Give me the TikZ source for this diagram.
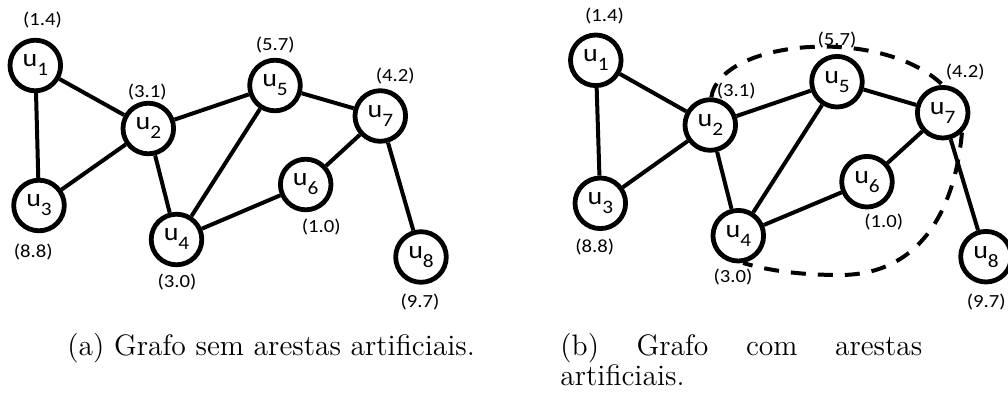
\documentclass[tikz,border=0pt]{standalone}
\usepackage{graphicx}
\usepackage{fontspec}
\newfontfamily\calfont{Carlito}
% vertex name: u with a lowered index
\newcommand\vname[1]{\scalebox{1.12}[1]{\fontsize{12.5}{13}\selectfont u\raisebox{-4.5pt}{\fontsize{9.5}{10}\selectfont #1}}}
% vertex weight
\newcommand\wt[1]{\scalebox{1.12}[1]{(#1)}}
\begin{document}
\begin{tikzpicture}[x=0.5pt,y=-0.5pt,
  vtx/.style={circle,draw,line width=2.4pt,minimum size=25.3pt,inner sep=0pt,font=\calfont},
  lnk/.style={line width=2pt},
  wgt/.style={inner sep=0pt,font=\calfont\fontsize{9.25}{10}\selectfont},
  artificial/.style={line width=2pt,dash pattern=on 7.5pt off 6pt},
  captxt/.style={inner sep=0pt,anchor=base west,font=\fontsize{14.8}{13.5}\selectfont}]
\useasboundingbox (0,0) rectangle (1008,397);

% ---------- (a) graph without artificial edges ----------
\node[vtx] (a1) at (35.3,65.5)  {\vname{1}};
\node[vtx] (a2) at (148.3,128.5) {\vname{2}};
\node[vtx] (a3) at (39,205.5)   {\vname{3}};
\node[vtx] (a4) at (176.5,239.5) {\vname{4}};
\node[vtx] (a5) at (275,85.5)   {\vname{5}};
\node[vtx] (a6) at (305.7,184.5) {\vname{6}};
\node[vtx] (a7) at (380.3,116)  {\vname{7}};
\node[vtx] (a8) at (421,257)    {\vname{8}};

\node[wgt] (a1w) at (42.5,20.3)  {\wt{1.4}};
\node[wgt] (a2w) at (147.3,92)   {\wt{3.1}};
\node[wgt] (a3w) at (33.3,251.7) {\wt{8.8}};
\node[wgt] (a4w) at (177,282.3)  {\wt{3.0}};
\node[wgt] (a5w) at (275.3,45.3) {\wt{5.7}};
\node[wgt] (a6w) at (321.3,227)  {\wt{1.0}};
\node[wgt] (a7w) at (395.3,75.7) {\wt{4.2}};
\node[wgt] (a8w) at (420,302.5)  {\wt{9.7}};

\draw[lnk] (a1) -- (a2);
\draw[lnk] (a1) -- (a3);
\draw[lnk] (a2) -- (a3);
\draw[lnk] (a2) -- (a5);
\draw[lnk] (a2) -- (a4);
\draw[lnk] (a4) -- (a5);
\draw[lnk] (a4) -- (a6);
\draw[lnk] (a5) -- (a7);
\draw[lnk] (a6) -- (a7);
\draw[lnk] (a7) -- (a8);

% ---------- (b) graph with artificial edges ----------
\node[vtx] (b1) at (595.8,60.3)  {\vname{1}};
\node[vtx] (b2) at (710.3,125)   {\vname{2}};
\node[vtx] (b3) at (600.3,203.3) {\vname{3}};
\node[vtx] (b4) at (738.3,235.7) {\vname{4}};
\node[vtx] (b5) at (837,81.7)    {\vname{5}};
\node[vtx] (b6) at (867,181.7)   {\vname{6}};
\node[vtx] (b7) at (942.7,112.7) {\vname{7}};
\node[vtx] (b8) at (986,256.7)   {\vname{8}};

\node[wgt] (b1w) at (604.4,15.7)  {\wt{1.4}};
\node[wgt] (b2w) at (736.3,90.7)  {\wt{3.1}};
\node[wgt] (b3w) at (594.7,247)   {\wt{8.8}};
\node[wgt] (b4w) at (733,277.3)   {\wt{3.0}};
\node[wgt] (b5w) at (837,40.3)    {\wt{5.7}};
\node[wgt] (b6w) at (883.7,222.3) {\wt{1.0}};
\node[wgt] (b7w) at (965.3,71.7)  {\wt{4.2}};
\node[wgt] (b8w) at (986.3,302.3) {\wt{9.7}};

\draw[lnk] (b1) -- (b2);
\draw[lnk] (b1) -- (b3);
\draw[lnk] (b2) -- (b3);
\draw[lnk] (b2) -- (b5);
\draw[lnk] (b2) -- (b4);
\draw[lnk] (b4) -- (b5);
\draw[lnk] (b4) -- (b6);
\draw[lnk] (b5) -- (b7);
\draw[lnk] (b6) -- (b7);
\draw[lnk] (b7) -- (b8);

% artificial edges
\coordinate (bot) at (840,275);
\draw[artificial] (b2.88) .. controls (720,40) and (880,25) .. (b7.north);
\draw[artificial] (b7.-46) .. controls (955,210) and (920,275) .. (bot)
  .. controls (790,275) and (760,268) .. (b4.-80);

% ---------- captions ----------
\node[captxt] (capa) at (67,355) {(a) Grafo sem arestas artificiais.};
\node[captxt] (capb) at (560,355) {\parbox[t]{181pt}{\fontsize{14.8}{13.5}\selectfont
  \hyphenpenalty=10000 \exhyphenpenalty=10000 \hbadness=10000
  (b) Grafo com arestas artificiais.}};
\end{tikzpicture}
\end{document}
